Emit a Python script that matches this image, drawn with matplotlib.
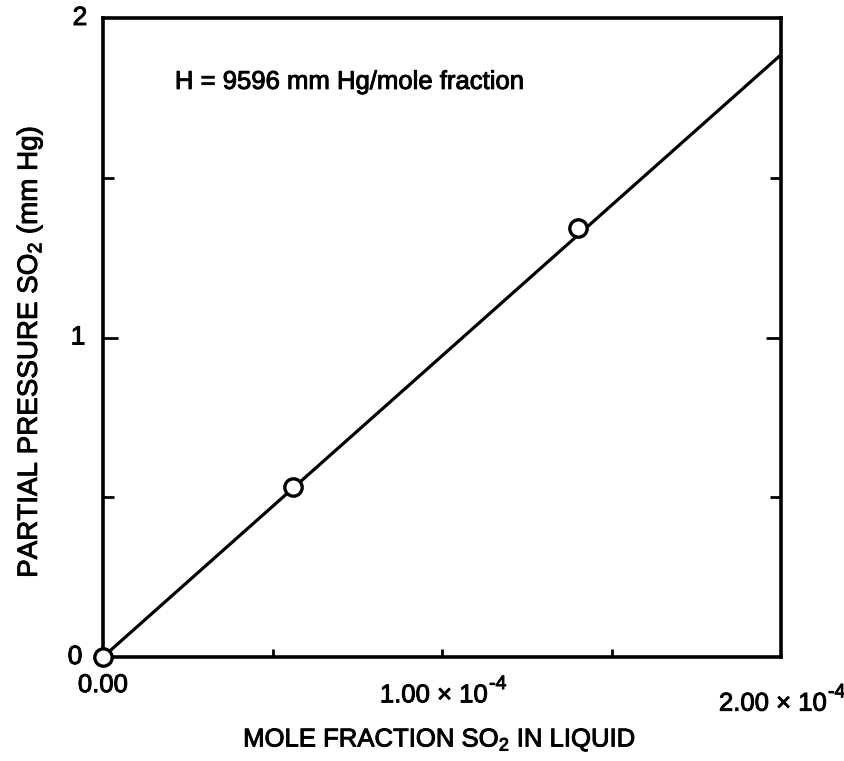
import matplotlib
matplotlib.use("Agg")
import matplotlib.pyplot as plt
import matplotlib.patheffects as pe

plt.rcParams['font.family'] = ['Liberation Sans', 'DejaVu Sans']
plt.rcParams['mathtext.fontset'] = 'custom'
plt.rcParams['mathtext.rm'] = 'Liberation Sans'
plt.rcParams['mathtext.it'] = 'Liberation Sans'

# data
point_x = [0.0, 5.6e-5, 1.40e-4]
point_y = [0.0, 0.532, 1.343]
line_x = [0.0, 2.0e-4]
line_y = [0.0, 1.885]
yticks = [0, 1, 2]
ytick_labels = ['0', '1', '2']
yminor = [0.5, 1.5]
xminor = [0.5e-4, 1.0e-4, 1.5e-4]
xlabel_pos = [0.0, 1.0e-4, 2.0e-4]
xlabel_base = ['0.00', '1.00 \u00d7 10', '2.00 \u00d7 10']
xlabel_exp = ['', '-4', '-4']

thick = [pe.withStroke(linewidth=0.7, foreground='black')]

fig = plt.figure(figsize=(8.44, 7.61), dpi=100)
ax = fig.add_axes([103/844, 1-657/761, 678/844, 639/761])

ax.plot(line_x, line_y, color='black', lw=2.3, zorder=2)
ax.plot(point_x, point_y, 'o', ms=12.5, mfc='white', mec='black', mew=2.4, zorder=3, clip_on=False)

ax.set_xlim(0, 2.0e-4)
ax.set_ylim(0, 2)
for s in ax.spines.values():
    s.set_linewidth(2.6)

ax.set_yticks([1])
ax.set_yticks(yminor, minor=True)
ax.set_yticklabels([''])
ax.tick_params(axis='y', which='major', direction='in', length=11, width=2, left=True, right=True)
ax.tick_params(axis='y', which='minor', direction='in', length=8, width=2, left=True, right=True)

ax.set_xticks([])
ax.set_xticks(xminor, minor=True)
ax.tick_params(axis='x', which='minor', direction='in', length=6, width=2, bottom=True, top=False)

# y tick labels
ylab_dx = [-28, -25, -23]
for v, lab, dx in zip(yticks, ytick_labels, ylab_dx):
    ax.annotate(lab, xy=(0, v), xycoords=('axes fraction', 'data'), xytext=(dx, 0),
                textcoords='offset pixels', fontsize=19, ha='center', va='center',
                annotation_clip=False, path_effects=thick)

# x tick labels
xlab_dy = [-0.044, -0.060, -0.073]
xlab_dx = [0, -8, -8]
for v, base, ex, dy, dx in zip(xlabel_pos, xlabel_base, xlabel_exp, xlab_dy, xlab_dx):
    t = ax.annotate(base, xy=(v, dy), xycoords=('data', 'axes fraction'), xytext=(dx, 0),
                    textcoords='offset pixels', fontsize=18.5, ha='center', va='center',
                    annotation_clip=False, path_effects=thick)
    if ex:
        ax.annotate(ex, xy=(1, 0.95), xycoords=t, xytext=(1, 0), textcoords='offset pixels',
                    fontsize=14, ha='left', va='center', annotation_clip=False, path_effects=thick)

ax.text(0.106, 0.90, 'H = 9596 mm Hg/mole fraction', fontsize=18.5, ha='left', va='center',
        transform=ax.transAxes, path_effects=thick)

fig.text(440/844, 1-740/761, r'MOLE FRACTION SO$_2$ IN LIQUID', fontsize=18.5, ha='center',
         va='center', path_effects=thick)
fig.text(30/844, 1-352/761, r'PARTIAL PRESSURE SO$_2$ (mm Hg)', fontsize=20, ha='center',
         va='center', rotation=90, path_effects=thick)

fig.savefig('out.png', dpi=100)
